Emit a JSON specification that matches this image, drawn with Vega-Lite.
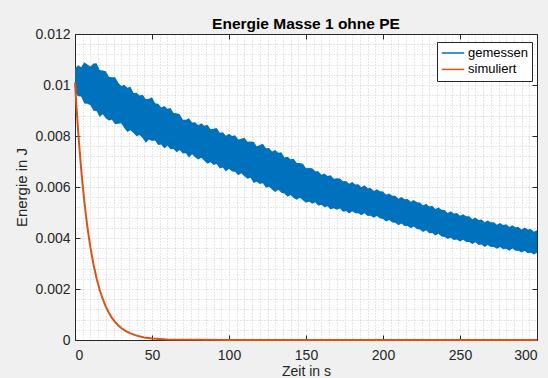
{
  "$schema": "https://vega.github.io/schema/vega-lite/v6.json",
  "width": 462,
  "height": 306,
  "autosize": {"type": "none"},
  "padding": {"left": 75, "top": 34, "right": 11, "bottom": 38},
  "background": "#f0f0f0",
  "config": {
    "font": "Liberation Sans",
    "view": {"fill": "white", "stroke": null},
    "axis": {
      "labelFont": "Liberation Sans",
      "labelFontSize": 14,
      "labelColor": "#262626",
      "domainColor": "#262626",
      "domainWidth": 1,
      "tickColor": "#262626",
      "tickSize": -5,
      "tickWidth": 1,
      "titleFont": "Liberation Sans",
      "titleFontSize": 15,
      "titleFontWeight": "normal",
      "titleColor": "#262626",
      "grid": false
    },
    "title": {"font": "Liberation Sans", "fontSize": 15.5, "fontWeight": "bold", "color": "#000000"}
  },
  "title": {"text": "Energie Masse 1 ohne PE", "anchor": "middle", "offset": -5},
  "datasets": {
    "band": [
      {"t":0,"lo":0.00970,"hi":0.01065},{"t":2,"lo":0.00956,"hi":0.01077},{"t":4,"lo":0.00955,"hi":0.01070},{"t":6,"lo":0.00927,"hi":0.01089},
      {"t":8,"lo":0.00926,"hi":0.01080},{"t":10,"lo":0.00921,"hi":0.01073},{"t":12,"lo":0.00899,"hi":0.01084},{"t":14,"lo":0.00898,"hi":0.01085},
      {"t":16,"lo":0.00875,"hi":0.01059},{"t":18,"lo":0.00885,"hi":0.01057},{"t":20,"lo":0.00870,"hi":0.01054},{"t":22,"lo":0.00861,"hi":0.01032},
      {"t":24,"lo":0.00864,"hi":0.01030},{"t":26,"lo":0.00846,"hi":0.01030},{"t":28,"lo":0.00848,"hi":0.01010},{"t":30,"lo":0.00850,"hi":0.00996},
      {"t":32,"lo":0.00831,"hi":0.01001},{"t":34,"lo":0.00816,"hi":0.00989},{"t":36,"lo":0.00823,"hi":0.00993},{"t":38,"lo":0.00812,"hi":0.00969},
      {"t":40,"lo":0.00799,"hi":0.00970},{"t":42,"lo":0.00804,"hi":0.00959},{"t":44,"lo":0.00791,"hi":0.00962},{"t":46,"lo":0.00774,"hi":0.00944},
      {"t":48,"lo":0.00786,"hi":0.00946},{"t":50,"lo":0.00780,"hi":0.00952},{"t":52,"lo":0.00782,"hi":0.00928},{"t":54,"lo":0.00765,"hi":0.00926},
      {"t":56,"lo":0.00767,"hi":0.00912},{"t":58,"lo":0.00751,"hi":0.00918},{"t":60,"lo":0.00762,"hi":0.00907},{"t":62,"lo":0.00748,"hi":0.00910},
      {"t":64,"lo":0.00749,"hi":0.00890},{"t":66,"lo":0.00736,"hi":0.00889},{"t":68,"lo":0.00745,"hi":0.00885},{"t":70,"lo":0.00731,"hi":0.00864},
      {"t":72,"lo":0.00732,"hi":0.00864},{"t":74,"lo":0.00716,"hi":0.00870},{"t":76,"lo":0.00728,"hi":0.00853},{"t":78,"lo":0.00717,"hi":0.00854},
      {"t":80,"lo":0.00708,"hi":0.00842},{"t":82,"lo":0.00715,"hi":0.00850},{"t":84,"lo":0.00703,"hi":0.00840},{"t":86,"lo":0.00691,"hi":0.00844},
      {"t":88,"lo":0.00697,"hi":0.00826},{"t":90,"lo":0.00686,"hi":0.00828},{"t":92,"lo":0.00690,"hi":0.00831},{"t":94,"lo":0.00673,"hi":0.00813},
      {"t":96,"lo":0.00676,"hi":0.00815},{"t":98,"lo":0.00661,"hi":0.00801},{"t":100,"lo":0.00672,"hi":0.00809},{"t":102,"lo":0.00661,"hi":0.00800},
      {"t":104,"lo":0.00660,"hi":0.00803},{"t":106,"lo":0.00646,"hi":0.00786},{"t":108,"lo":0.00654,"hi":0.00789},{"t":110,"lo":0.00642,"hi":0.00793},
      {"t":112,"lo":0.00632,"hi":0.00777},{"t":114,"lo":0.00636,"hi":0.00778},{"t":116,"lo":0.00616,"hi":0.00777},{"t":118,"lo":0.00621,"hi":0.00760},
      {"t":120,"lo":0.00612,"hi":0.00765},{"t":122,"lo":0.00615,"hi":0.00770},{"t":124,"lo":0.00597,"hi":0.00752},{"t":126,"lo":0.00601,"hi":0.00753},
      {"t":128,"lo":0.00590,"hi":0.00739},{"t":130,"lo":0.00580,"hi":0.00745},{"t":132,"lo":0.00589,"hi":0.00734},{"t":134,"lo":0.00577,"hi":0.00736},
      {"t":136,"lo":0.00575,"hi":0.00716},{"t":138,"lo":0.00562,"hi":0.00719},{"t":140,"lo":0.00569,"hi":0.00709},{"t":142,"lo":0.00557,"hi":0.00711},
      {"t":144,"lo":0.00550,"hi":0.00694},{"t":146,"lo":0.00558,"hi":0.00694},{"t":148,"lo":0.00548,"hi":0.00691},{"t":150,"lo":0.00538,"hi":0.00674},
      {"t":152,"lo":0.00543,"hi":0.00675},{"t":154,"lo":0.00534,"hi":0.00674},{"t":156,"lo":0.00540,"hi":0.00662},{"t":158,"lo":0.00526,"hi":0.00662},
      {"t":160,"lo":0.00530,"hi":0.00648},{"t":162,"lo":0.00521,"hi":0.00653},{"t":164,"lo":0.00525,"hi":0.00643},{"t":166,"lo":0.00512,"hi":0.00646},
      {"t":168,"lo":0.00517,"hi":0.00632},{"t":170,"lo":0.00511,"hi":0.00634},{"t":172,"lo":0.00516,"hi":0.00633},{"t":174,"lo":0.00503,"hi":0.00623},
      {"t":176,"lo":0.00506,"hi":0.00624},{"t":178,"lo":0.00496,"hi":0.00613},{"t":180,"lo":0.00505,"hi":0.00620},{"t":182,"lo":0.00497,"hi":0.00610},
      {"t":184,"lo":0.00497,"hi":0.00611},{"t":186,"lo":0.00489,"hi":0.00599},{"t":188,"lo":0.00497,"hi":0.00607},{"t":190,"lo":0.00486,"hi":0.00595},
      {"t":192,"lo":0.00487,"hi":0.00596},{"t":194,"lo":0.00479,"hi":0.00584},{"t":196,"lo":0.00486,"hi":0.00591},{"t":198,"lo":0.00477,"hi":0.00583},
      {"t":200,"lo":0.00475,"hi":0.00582},{"t":202,"lo":0.00465,"hi":0.00570},{"t":204,"lo":0.00471,"hi":0.00575},{"t":206,"lo":0.00461,"hi":0.00566},
      {"t":208,"lo":0.00460,"hi":0.00566},{"t":210,"lo":0.00450,"hi":0.00554},{"t":212,"lo":0.00457,"hi":0.00561},{"t":214,"lo":0.00447,"hi":0.00552},
      {"t":216,"lo":0.00447,"hi":0.00553},{"t":218,"lo":0.00438,"hi":0.00542},{"t":220,"lo":0.00445,"hi":0.00549},{"t":222,"lo":0.00435,"hi":0.00540},
      {"t":224,"lo":0.00433,"hi":0.00539},{"t":226,"lo":0.00424,"hi":0.00527},{"t":228,"lo":0.00430,"hi":0.00534},{"t":230,"lo":0.00419,"hi":0.00524},
      {"t":232,"lo":0.00420,"hi":0.00526},{"t":234,"lo":0.00410,"hi":0.00514},{"t":236,"lo":0.00417,"hi":0.00520},{"t":238,"lo":0.00406,"hi":0.00511},
      {"t":240,"lo":0.00404,"hi":0.00510},{"t":242,"lo":0.00396,"hi":0.00498},{"t":244,"lo":0.00401,"hi":0.00505},{"t":246,"lo":0.00392,"hi":0.00496},
      {"t":248,"lo":0.00394,"hi":0.00498},{"t":250,"lo":0.00386,"hi":0.00487},{"t":252,"lo":0.00393,"hi":0.00493},{"t":254,"lo":0.00384,"hi":0.00485},
      {"t":256,"lo":0.00384,"hi":0.00485},{"t":258,"lo":0.00376,"hi":0.00474},{"t":260,"lo":0.00383,"hi":0.00480},{"t":262,"lo":0.00373,"hi":0.00471},
      {"t":264,"lo":0.00375,"hi":0.00473},{"t":266,"lo":0.00365,"hi":0.00462},{"t":268,"lo":0.00373,"hi":0.00469},{"t":270,"lo":0.00365,"hi":0.00462},
      {"t":272,"lo":0.00365,"hi":0.00462},{"t":274,"lo":0.00358,"hi":0.00452},{"t":276,"lo":0.00365,"hi":0.00459},{"t":278,"lo":0.00356,"hi":0.00451},
      {"t":280,"lo":0.00358,"hi":0.00454},{"t":282,"lo":0.00350,"hi":0.00443},{"t":284,"lo":0.00359,"hi":0.00450},{"t":286,"lo":0.00350,"hi":0.00442},
      {"t":288,"lo":0.00350,"hi":0.00443},{"t":290,"lo":0.00343,"hi":0.00433},{"t":292,"lo":0.00350,"hi":0.00441},{"t":294,"lo":0.00340,"hi":0.00433},
      {"t":296,"lo":0.00342,"hi":0.00435},{"t":298,"lo":0.00335,"hi":0.00425},{"t":300,"lo":0.00342,"hi":0.00430}
    ],
    "sim": [
      {"t":0,"s":0.01010},{"t":1,"s":0.00912},{"t":2,"s":0.00823},{"t":3,"s":0.00744},{"t":4,"s":0.00671},
      {"t":5,"s":0.00606},{"t":6,"s":0.00548},{"t":7,"s":0.00494},{"t":8,"s":0.00446},{"t":9,"s":0.00403},
      {"t":10,"s":0.00364},{"t":12,"s":0.00297},{"t":14,"s":0.00242},{"t":16,"s":0.00197},{"t":18,"s":0.00161},
      {"t":20,"s":0.00131},{"t":22,"s":0.00107},{"t":24,"s":0.00087},{"t":26,"s":0.00071},{"t":28,"s":0.00058},
      {"t":30,"s":0.00047},{"t":33,"s":0.00035},{"t":36,"s":0.00026},{"t":40,"s":0.00017},{"t":45,"s":0.00010},
      {"t":50,"s":0.00006},{"t":60,"s":0.00002},{"t":80,"s":0.000005},{"t":100,"s":0.000001},{"t":150,"s":0},
      {"t":200,"s":0},{"t":250,"s":0},{"t":300,"s":0}
    ]
  },
  "layer": [
    {
      "data": {"name": "sim"},
      "mark": {"type": "line", "opacity": 0},
      "encoding": {
        "x": {"field": "t", "type": "quantitative", "scale": {"domain": [0, 300], "nice": false},
          "axis": {"orient": "bottom", "values": [0,5,10,15,20,25,30,35,40,45,50,55,60,65,70,75,80,85,90,95,100,105,110,115,120,125,130,135,140,145,150,155,160,165,170,175,180,185,190,195,200,205,210,215,220,225,230,235,240,245,250,255,260,265,270,275,280,285,290,295,300],
            "grid": true, "gridColor": "#cfcfcf", "gridDash": [1, 2], "labels": false, "ticks": false, "domain": false, "title": null}},
        "y": {"field": "s", "type": "quantitative", "scale": {"domain": [0, 0.012], "nice": false},
          "axis": {"orient": "left", "values": [0,0.0004,0.0008,0.0012,0.0016,0.002,0.0024,0.0028,0.0032,0.0036,0.004,0.0044,0.0048,0.0052,0.0056,0.006,0.0064,0.0068,0.0072,0.0076,0.008,0.0084,0.0088,0.0092,0.0096,0.01,0.0104,0.0108,0.0112,0.0116,0.012],
            "grid": true, "gridColor": "#cfcfcf", "gridDash": [1, 2], "labels": false, "ticks": false, "domain": false, "title": null}}
      }
    },
    {
      "data": {"name": "band"},
      "mark": {"type": "area", "opacity": 1},
      "encoding": {
        "x": {"field": "t", "type": "quantitative",
          "axis": {"orient": "bottom", "values": [0,50,100,150,200,250,300], "format": "d", "labelPadding": 13, "title": "Zeit in s", "titlePadding": 2, "titleFontSize": 14}},
        "y": {"field": "lo", "type": "quantitative",
          "axis": {"orient": "left", "values": [0,0.002,0.004,0.006,0.008,0.01,0.012], "format": "~g", "labelPadding": 10, "title": "Energie in J", "titlePadding": 5}},
        "y2": {"field": "hi"},
        "color": {"datum": "gemessen", "type": "nominal",
          "scale": {"domain": ["gemessen", "simuliert"], "range": ["#0072BD", "#D95319"]},
          "legend": {"title": null, "orient": "none", "legendX": 362, "legendY": 8,
            "fillColor": "white", "strokeColor": "#262626", "padding": 4,
            "symbolType": "M-1,0H2.6", "symbolSize": 156, "labelOffset": 13, "rowPadding": 2.4,
            "labelFontSize": 13, "labelColor": "#000000", "labelFont": "Liberation Sans",
            "encode": {"symbols": {"update": {"fill": {"value": "transparent"}, "stroke": {"scale": "color", "field": "value"}, "strokeWidth": {"value": 1}, "opacity": {"value": 1}}}}}}
      }
    },
    {
      "data": {"name": "sim"},
      "mark": {"type": "line", "strokeWidth": 2},
      "encoding": {
        "x": {"field": "t", "type": "quantitative",
          "axis": {"orient": "top", "values": [0,50,100,150,200,250,300], "labels": false, "title": null}},
        "y": {"field": "s", "type": "quantitative",
          "axis": {"orient": "right", "values": [0,0.002,0.004,0.006,0.008,0.01,0.012], "labels": false, "title": null}},
        "color": {"datum": "simuliert", "type": "nominal"}
      }
    }
  ],
  "resolve": {"axis": {"x": "independent", "y": "independent"}}
}
